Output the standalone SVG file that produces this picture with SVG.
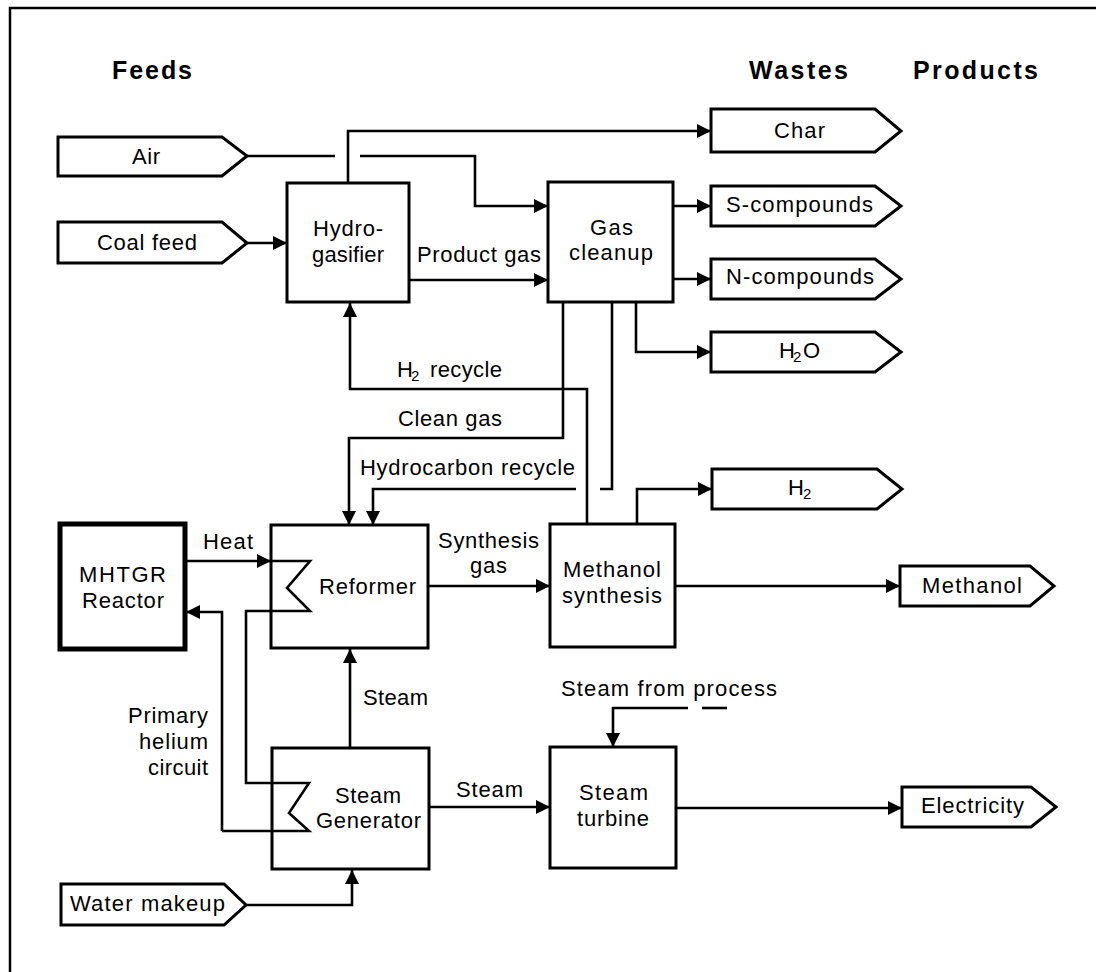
<svg xmlns="http://www.w3.org/2000/svg" width="1096" height="972" viewBox="0 0 1096 972">
  <defs>
    <marker id="arrow" viewBox="0 0 14 14" refX="14" refY="7" markerWidth="14" markerHeight="14" markerUnits="userSpaceOnUse" orient="auto">
      <path d="M0,0 L14,7 L0,14 z" fill="#000"/>
    </marker>
    <style>
      .box { fill: #fff; stroke: #000; stroke-width: 3; }
      .open { fill: none; stroke: #000; stroke-width: 3; }
      .reactor { fill: #fff; stroke: #000; stroke-width: 5; }
      .tag { fill: #fff; stroke: #000; stroke-width: 3; stroke-linejoin: miter; }
      .line { fill: none; stroke: #000; stroke-width: 2.6; }
      .flow { fill: none; stroke: #000; stroke-width: 2.6; marker-end: url(#arrow); }
      .frame { fill: none; stroke: #000; stroke-width: 2.5; }
      text { font-family: "Liberation Sans", Arial, Helvetica, sans-serif; font-size: 22px; fill: #000; }
      .head { font-size: 25px; font-weight: bold; }
      .sub { font-size: 15px; }
    </style>
  </defs>

  <rect width="1096" height="972" fill="#fff"/>

  <!-- page frame -->
  <path class="frame" d="M10,972 V8 H1096"/>

  <!-- column headings -->
  <g id="headings">
    <text class="head" x="112" y="79" textLength="80" lengthAdjust="spacing">Feeds</text>
    <text class="head" x="749" y="79" textLength="99" lengthAdjust="spacing">Wastes</text>
    <text class="head" x="913" y="79" textLength="125" lengthAdjust="spacing">Products</text>
  </g>

  <!-- connectors -->
  <g id="connectors">
    <!-- air to gas cleanup, broken where it crosses the char line -->
    <path class="line" d="M247,156 H335"/>
    <path class="flow" d="M360,156 H475 V206 H548"/>
    <!-- char -->
    <path class="flow" d="M348,183 V131 H711"/>
    <!-- coal feed -->
    <path class="flow" d="M247,243 H287"/>
    <!-- product gas -->
    <path class="flow" d="M409,280 H548"/>
    <!-- wastes from gas cleanup -->
    <path class="flow" d="M673,206 H711"/>
    <path class="flow" d="M673,279 H711"/>
    <path class="flow" d="M636,302 V352 H711"/>
    <!-- clean gas to reformer -->
    <path class="flow" d="M563,302 V438 H349 V525"/>
    <!-- H2 recycle to hydrogasifier -->
    <path class="flow" d="M587,524 V389 H350 V303"/>
    <!-- hydrocarbon recycle, broken at the H2 recycle line -->
    <path class="line" d="M612,302 V489 H600"/>
    <path class="flow" d="M576,489 H373 V525"/>
    <!-- H2 product -->
    <path class="flow" d="M637,524 V489 H712"/>
    <!-- synthesis gas -->
    <path class="flow" d="M428,586 H550"/>
    <!-- methanol product -->
    <path class="flow" d="M675,586 H900"/>
    <!-- heat from reactor into reformer -->
    <path class="flow" d="M185,561 H271"/>
    <!-- primary helium circuit: reformer coil, steam generator coil, back to reactor -->
    <path class="line" d="M271,561 H310 L287,588 L310,611 H246 V783 H309 L289,813 L309,831 H222"/>
    <path class="flow" d="M222,831 V612 H186"/>
    <!-- steam to reformer -->
    <path class="flow" d="M350,748 V649"/>
    <!-- water makeup -->
    <path class="flow" d="M246,905 H352 V870"/>
    <!-- steam to turbine -->
    <path class="flow" d="M429,807 H550"/>
    <!-- steam from process -->
    <path class="flow" d="M688,708 H613 V747"/>
    <path class="line" d="M702,708 H727"/>
    <!-- electricity -->
    <path class="flow" d="M676,808 H902"/>
  </g>

  <!-- connector labels -->
  <g id="labels">
    <text x="417" y="262" textLength="124" lengthAdjust="spacing">Product gas</text>
    <text x="397" y="377">H<tspan class="sub" x="411" y="381">2</tspan><tspan x="430" y="377" textLength="72" lengthAdjust="spacing">recycle</tspan></text>
    <text x="398" y="426" textLength="104" lengthAdjust="spacing">Clean gas</text>
    <text x="360" y="475" textLength="215" lengthAdjust="spacing">Hydrocarbon recycle</text>
    <text x="203" y="549" textLength="50" lengthAdjust="spacing">Heat</text>
    <text x="438" y="548" textLength="101" lengthAdjust="spacing">Synthesis</text>
    <text x="470" y="573" textLength="37" lengthAdjust="spacing">gas</text>
    <text x="363" y="705" textLength="65" lengthAdjust="spacing">Steam</text>
    <text x="561" y="696" textLength="216" lengthAdjust="spacing">Steam from process</text>
    <text x="128" y="723" textLength="80" lengthAdjust="spacing">Primary</text>
    <text x="139" y="749" textLength="69" lengthAdjust="spacing">helium</text>
    <text x="148" y="775" textLength="60" lengthAdjust="spacing">circuit</text>
    <text x="456" y="797" textLength="67" lengthAdjust="spacing">Steam</text>
  </g>

  <!-- feeds -->
  <g id="feed-air">
    <polygon class="tag" points="58,137 222,137 247,156 222,176 58,176"/>
    <text x="132" y="164" textLength="28" lengthAdjust="spacing">Air</text>
  </g>
  <g id="feed-coal">
    <polygon class="tag" points="58,222 222,222 247,243 222,263 58,263"/>
    <text x="97" y="250" textLength="100" lengthAdjust="spacing">Coal feed</text>
  </g>
  <g id="feed-water">
    <polygon class="tag" points="61,884 224,884 246,905 224,925 61,925"/>
    <text x="70" y="911" textLength="155" lengthAdjust="spacing">Water makeup</text>
  </g>

  <!-- process units -->
  <g id="hydrogasifier">
    <rect class="box" x="287" y="183" width="122" height="119"/>
    <text x="313" y="236" textLength="70" lengthAdjust="spacing">Hydro-</text>
    <text x="312" y="262" textLength="72" lengthAdjust="spacing">gasifier</text>
  </g>
  <g id="gas-cleanup">
    <rect class="box" x="548" y="182" width="125" height="120"/>
    <text x="590" y="235" textLength="43" lengthAdjust="spacing">Gas</text>
    <text x="569" y="260" textLength="84" lengthAdjust="spacing">cleanup</text>
  </g>
  <g id="mhtgr-reactor">
    <rect class="reactor" x="60" y="524" width="125" height="125"/>
    <text x="79" y="582" textLength="87" lengthAdjust="spacing">MHTGR</text>
    <text x="82" y="608" textLength="82" lengthAdjust="spacing">Reactor</text>
  </g>
  <g id="reformer">
    <rect class="open" x="271" y="525" width="157" height="123"/>
    <text x="319" y="594" textLength="97" lengthAdjust="spacing">Reformer</text>
  </g>
  <g id="methanol-synthesis">
    <rect class="box" x="550" y="524" width="125" height="123"/>
    <text x="563" y="577" textLength="98" lengthAdjust="spacing">Methanol</text>
    <text x="562" y="603" textLength="100" lengthAdjust="spacing">synthesis</text>
  </g>
  <g id="steam-generator">
    <rect class="open" x="272" y="748" width="157" height="121"/>
    <text x="335" y="803" textLength="66" lengthAdjust="spacing">Steam</text>
    <text x="316" y="828" textLength="105" lengthAdjust="spacing">Generator</text>
  </g>
  <g id="steam-turbine">
    <rect class="box" x="550" y="747" width="126" height="121"/>
    <text x="579" y="800" textLength="69" lengthAdjust="spacing">Steam</text>
    <text x="577" y="826" textLength="72" lengthAdjust="spacing">turbine</text>
  </g>

  <!-- wastes -->
  <g id="waste-char">
    <polygon class="tag" points="711,109 875,109 901,131 875,152 711,152"/>
    <text x="774" y="138" textLength="51" lengthAdjust="spacing">Char</text>
  </g>
  <g id="waste-s-compounds">
    <polygon class="tag" points="711,186 875,186 901,206 875,226 711,226"/>
    <text x="726" y="212" textLength="147" lengthAdjust="spacing">S-compounds</text>
  </g>
  <g id="waste-n-compounds">
    <polygon class="tag" points="711,259 875,259 901,279 875,299 711,299"/>
    <text x="726" y="284" textLength="148" lengthAdjust="spacing">N-compounds</text>
  </g>
  <g id="waste-h2o">
    <polygon class="tag" points="711,332 875,332 901,352 875,372 711,372"/>
    <text x="779" y="358">H<tspan class="sub" x="793" y="362">2</tspan><tspan x="803" y="358">O</tspan></text>
  </g>

  <!-- products -->
  <g id="product-h2">
    <polygon class="tag" points="712,469 877,469 902,489 877,509 712,509"/>
    <text x="788" y="495">H<tspan class="sub" x="803" y="499">2</tspan></text>
  </g>
  <g id="product-methanol">
    <polygon class="tag" points="900,566 1030,566 1054,586 1030,606 900,606"/>
    <text x="922" y="593" textLength="100" lengthAdjust="spacing">Methanol</text>
  </g>
  <g id="product-electricity">
    <polygon class="tag" points="902,787 1031,787 1056,807 1031,827 902,827"/>
    <text x="921" y="813" textLength="103" lengthAdjust="spacing">Electricity</text>
  </g>
</svg>
